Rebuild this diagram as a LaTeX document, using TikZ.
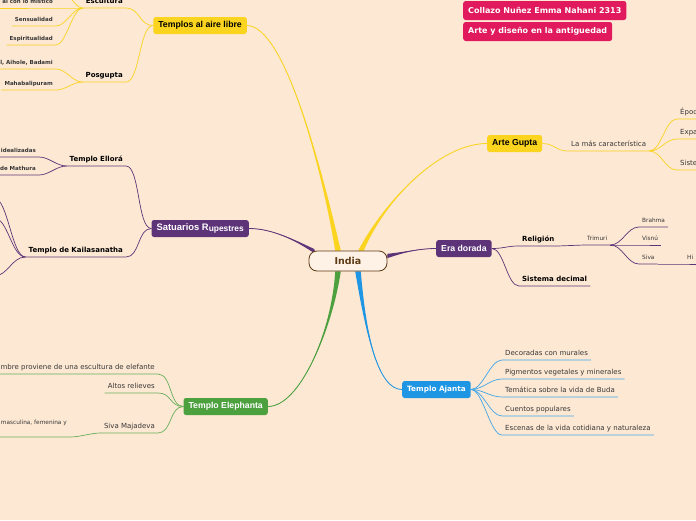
\documentclass[tikz,border=0pt]{standalone}
\usepackage{fontspec}
\setmainfont{DejaVu Sans}
\newfontfamily\arialf{Liberation Sans}
\usepackage{tikz}
\usetikzlibrary{positioning,calc}

\definecolor{bgpeach}{RGB}{253,232,211}
\definecolor{mmyellow}{RGB}{250,212,30}
\definecolor{mmpurple}{RGB}{94,52,120}
\definecolor{mmgreen}{RGB}{76,160,62}
\definecolor{mmblue}{RGB}{30,150,228}
\definecolor{mmred}{RGB}{224,26,92}
\definecolor{mmbrown}{RGB}{92,58,20}
\definecolor{leafgray}{RGB}{55,55,55}

\pgfdeclarelayer{back}
\pgfdeclarelayer{lines}
\pgfsetlayers{back,lines,main}

% tapered main branch: colour, root, half width, control a, control b, target
\newcommand{\trunk}[6]{%
  \fill[#1] ($(#2)+(#3)$) .. controls #4 and #5 .. (#6)
    .. controls #5 and #4 .. ($(#2)-(#3)$) -- cycle;
  \draw[#1,line width=0.8pt] (#2) .. controls #4 and #5 .. (#6);}

\begin{document}
\begin{tikzpicture}[x=1pt,y=-1pt,
  main/.style={rounded corners=2.5pt,minimum height=17pt,inner xsep=5pt,inner ysep=0pt,
    font=\arialf\bfseries\fontsize{8.7}{9}\selectfont,text=white},
  title/.style={fill=mmred,rounded corners=2.5pt,minimum height=19pt,inner xsep=5pt,inner ysep=0pt,
    font=\bfseries\fontsize{8}{9}\selectfont,text=white},
  sub/.style={font=\bfseries\fontsize{7}{7}\selectfont,inner xsep=3pt,inner ysep=2.5pt,
    text height=5pt,text depth=1.4pt},
  leaf/.style={font=\fontsize{7}{7}\selectfont,text=leafgray,inner xsep=3pt,inner ysep=2.5pt,
    text height=5pt,text depth=1.4pt},
  leafb/.style={leaf,font=\bfseries\fontsize{5.5}{6}\selectfont},
  leafs/.style={leaf,font=\fontsize{5.8}{6}\selectfont},
  ylk/.style={mmyellow,line width=0.7pt},
  plk/.style={mmpurple,line width=0.7pt},
  glk/.style={mmgreen!85!white,line width=0.7pt},
  blk/.style={mmblue!85!white,line width=0.7pt}
]
\useasboundingbox (0,0) rectangle (696,520);
\begin{pgfonlayer}{back}
  \fill[bgpeach] (0,0) rectangle (696,520);
\end{pgfonlayer}

% centre and titles
\node[draw=mmbrown,line width=0.8pt,fill=bgpeach!60!white,rounded corners=8pt,
  minimum width=78pt,minimum height=20pt,text=mmbrown,font=\bfseries\fontsize{9.5}{10}\selectfont]
  (india) at (348,261) {India};
\node[title,anchor=west] (t1) at (463,10.5) {Collazo Nuñez Emma Nahani 2313};
\node[title,anchor=west] (t2) at (463,31.5) {Arte y diseño en la antiguedad};

% main topics
\node[main,fill=mmyellow,text=black,anchor=east] (tal) at (247,25.5) {Templos al aire libre};
\node[main,fill=mmpurple,anchor=east,font=\arialf\bfseries\fontsize{9.4}{10}\selectfont] (sat) at (249,228.5)
  {Satuarios R\raisebox{-0.7pt}{\fontsize{8.4}{9}\selectfont upestres}};
\node[main,fill=mmgreen,anchor=east] (ele) at (268,406.5) {Templo Elephanta};
\node[main,fill=mmyellow,text=black,anchor=west] (gup) at (487,143.5) {Arte Gupta};
\node[main,fill=mmpurple,anchor=west] (era) at (436,248.5) {Era dorada};
\node[main,fill=mmblue,anchor=west,font=\bfseries\fontsize{7.3}{8}\selectfont] (aja) at (402,389.5) {Templo Ajanta};

% left side
\node[sub,anchor=south east] (esc) at (126,8) {Escultura};
\node[sub,anchor=south east] (pos) at (126,82) {Posgupta};
\node[leafb,anchor=south east] (t11) at (56,8) {al con lo místico};
\node[leafb,anchor=south east] (t12) at (56,26) {Sensualidad};
\node[leafb,anchor=south east] (t13) at (56,45) {Espiritualidad};
\node[leafb,anchor=south east] (t21) at (56,69) {l, Aihole, Badami};
\node[leafb,anchor=south east] (t22) at (56,90) {Mahabalipuram};
\coordinate (t10) at (64,-14);

\node[sub,anchor=south east] (ell) at (126,166) {Templo Ellorá};
\node[sub,anchor=south east] (kai) at (126,257) {Templo de Kailasanatha};
\node[leafb,anchor=south east] (s11) at (39,157) {idealizadas};
\node[leafb,anchor=south east] (s12) at (39,175) {de Mathura};
\coordinate (k1) at (-6,198);
\coordinate (k2) at (-6,218);
\coordinate (k3) at (-6,276);

\node[leaf,anchor=south east] (e1) at (158,374) {mbre proviene de una escultura de elefante};
\node[leaf,anchor=south east] (e2) at (158,393) {Altos relieves};
\node[leaf,anchor=south east] (e3) at (158,433) {Siva Majadeva};
\node[leafs,anchor=south east,text depth=10pt] (e31) at (70,437) {masculina, femenina y};

% right side
\node[leaf,anchor=south west] (g1) at (568,151) {La más característica};
\node[leaf,anchor=south west] (g11) at (677,119) {Époc};
\node[leaf,anchor=south west] (g12) at (677,139) {Expa};
\node[leaf,anchor=south west] (g13) at (677,170) {Siste};

\node[sub,anchor=south west] (r1) at (519,246) {Religión};
\node[sub,anchor=south west] (r2) at (519,286) {Sistema decimal};
\node[leafs,anchor=south west] (r11) at (584,245) {Trimuri};
\node[leafs,anchor=south west] (r111) at (639,227) {Brahma};
\node[leafs,anchor=south west] (r112) at (639,245) {Visnú};
\node[leafs,anchor=south west] (r113) at (639,264) {Siva};
\node[leafs,anchor=south west] (r1131) at (684,264) {Hi};

\node[leaf,anchor=south west] (a1) at (502,360) {Decoradas con murales};
\node[leaf,anchor=south west] (a2) at (502,379) {Pigmentos vegetales y minerales};
\node[leaf,anchor=south west] (a3) at (502,397) {Temática sobre la vida de Buda};
\node[leaf,anchor=south west] (a4) at (502,416) {Cuentos populares};
\node[leaf,anchor=south west] (a5) at (502,435) {Escenas de la vida cotidiana y naturaleza};

\begin{pgfonlayer}{lines}
  % main branches
  \coordinate (rt1) at ($(india.north)+(-10,0)$);
  \coordinate (rt2) at ($(india.north)+(13,0)$);
  \coordinate (rt3) at ($(india.north)+(-33,1)$);
  \coordinate (rt4) at ($(india.east)+(0,-5)$);
  \coordinate (rt5) at ($(india.south)+(-10,0)$);
  \coordinate (rt6) at ($(india.south)+(10,0)$);
  \trunk{mmyellow}{rt1}{2.8,0}{(322,170)}{(285,26)}{tal.east}
  \trunk{mmyellow}{rt2}{2.8,0}{(385,200)}{(440,143.5)}{gup.west}
  \trunk{mmpurple}{rt3}{0.8,2.6}{(295,240)}{(272,228.5)}{sat.east}
  \trunk{mmpurple}{rt4}{0,2.2}{(405,252)}{(420,248.5)}{era.west}
  \trunk{mmgreen}{rt5}{2.8,0}{(332,330)}{(300,406.5)}{ele.east}
  \trunk{mmblue}{rt6}{2.8,0}{(366,335)}{(378,389.5)}{aja.west}

  % left sub branches
  \foreach \p/\c in {tal/esc,tal/pos}
    \draw[ylk] (\p.west) .. controls +(-14,0) and +(14,0) .. (\c.south east) -- (\c.south west);
  \foreach \p/\c in {esc/t11,esc/t12,esc/t13,pos/t21,pos/t22}
    \draw[ylk] (\p.south west) .. controls +(-10,0) and +(10,0) .. (\c.south east) -- (\c.south west);
  \draw[ylk] (esc.south west) .. controls +(-8,0) and +(4,6) .. (t10);

  \foreach \p/\c in {sat/ell,sat/kai}
    \draw[plk] (\p.west) .. controls +(-14,0) and +(14,0) .. (\c.south east) -- (\c.south west);
  \foreach \p/\c in {ell/s11,ell/s12}
    \draw[plk] (\p.south west) .. controls +(-10,0) and +(10,0) .. (\c.south east) -- (\c.south west);
  \foreach \k in {k1,k2,k3}
    \draw[plk] (kai.south west) .. controls +(-14,0) and +(14,0) .. (\k);

  \foreach \c in {e1,e2,e3}
    \draw[glk] (ele.west) .. controls +(-14,0) and +(14,0) .. (\c.south east) -- (\c.south west);
  \draw[glk] (e3.south west) .. controls +(-10,0) and +(10,0) .. (e31.south east) -- (e31.south west);

  % right sub branches
  \draw[ylk] (gup.east) .. controls +(12,0) and +(-12,0) .. (g1.south west) -- (g1.south east);
  \foreach \c in {g11,g12,g13}
    \draw[ylk] (g1.south east) .. controls +(12,0) and +(-12,0) .. (\c.south west) -- (\c.south east);

  \foreach \c in {r1,r2}
    \draw[plk] (era.east) .. controls +(12,0) and +(-12,0) .. (\c.south west) -- (\c.south east);
  \draw[plk] (r1.south east) -- (r11.south west) -- (r11.south east);
  \foreach \c in {r111,r112,r113}
    \draw[plk] (r11.south east) .. controls +(12,0) and +(-12,0) .. (\c.south west) -- (\c.south east);
  \draw[plk] (r113.south east) -- (r1131.south west) -- (r1131.south east);

  \foreach \c in {a1,a2,a3,a4,a5}
    \draw[blk] (aja.east) .. controls +(12,0) and +(-12,0) .. (\c.south west) -- (\c.south east);
\end{pgfonlayer}
\end{tikzpicture}
\end{document}
